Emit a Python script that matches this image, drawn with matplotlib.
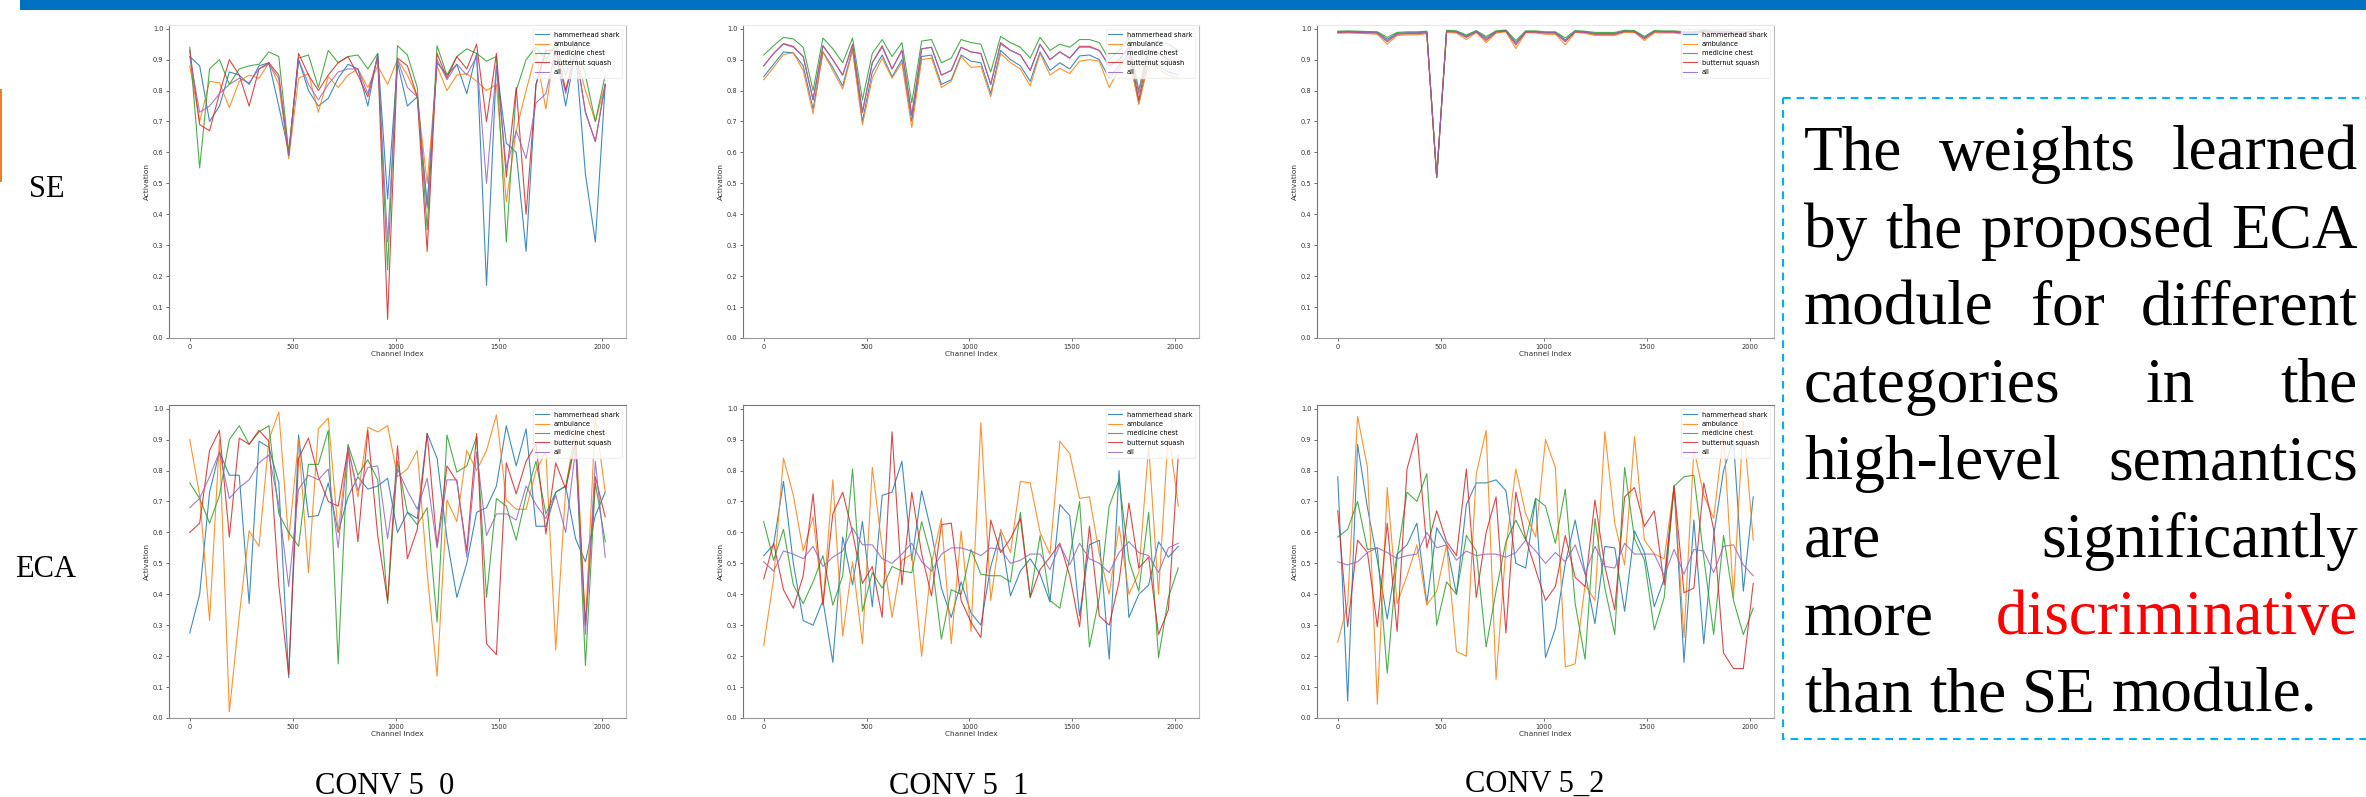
import matplotlib
matplotlib.use("Agg")
import matplotlib.pyplot as plt
from matplotlib.patches import Rectangle
from matplotlib.transforms import Affine2D

W, H = 2366, 797

channel_index = [0, 48, 96, 144, 192, 240, 288, 336, 384, 432, 480, 528, 576, 624, 672, 720, 768, 816, 864, 912, 960,
                 1008, 1056, 1104, 1152, 1200, 1248, 1296, 1344, 1392, 1440, 1488, 1536, 1584, 1632, 1680, 1728, 1776,
                 1824, 1872, 1920, 1968, 2016]
class_names = ["hammerhead shark", "ambulance", "medicine chest", "butternut squash", "all"]
y_ticks = [0.0, 0.1, 0.2, 0.3, 0.4, 0.5, 0.6, 0.7, 0.8, 0.9, 1.0]
x_ticks = [0, 500, 1000, 1500, 2000]

# SE, CONV 5_0
se0_shark = [.91, .88, .70, .75, .86, .85, .82, .88, .89, .75, .60, .90, .80, .75, .775, .84, .885, .87, .75, .92, .45, .89, .75, .78, .43, .89, .85, .885, .79, .92, .17, .88, .63, .60, .28, .82, .93, .93, .75, .93, .53, .31, .82]
se0_ambulance = [.88, .70, .83, .825, .745, .83, .85, .84, .89, .82, .58, .84, .855, .73, .845, .81, .85, .87, .81, .88, .82, .90, .85, .78, .50, .88, .80, .85, .855, .83, .80, .82, .44, .67, .80, .92, .74, .96, .80, .92, .80, .70, .82]
se0_chest = [.94, .55, .87, .90, .82, .87, .88, .885, .925, .91, .60, .905, .915, .81, .93, .89, .91, .915, .87, .92, .22, .945, .915, .81, .35, .945, .85, .91, .935, .92, .895, .91, .31, .80, .90, .94, .90, .95, .85, .96, .85, .70, .85]
se0_squash = [.93, .69, .67, .79, .90, .85, .75, .87, .89, .85, .59, .92, .85, .80, .85, .89, .91, .85, .78, .91, .06, .905, .88, .78, .28, .92, .84, .91, .87, .95, .70, .92, .52, .81, .40, .82, .93, .93, .80, .93, .73, .635, .82]
se0_all = [.91, .73, .75, .79, .82, .84, .825, .87, .885, .84, .59, .90, .82, .77, .82, .86, .87, .87, .79, .91, .31, .90, .81, .78, .42, .90, .835, .885, .85, .91, .50, .88, .55, .67, .58, .76, .79, .93, .79, .93, .73, .635, .82]

# SE, CONV 5_1
se1_shark = [.845, .885, .925, .922, .88, .74, .925, .875, .815, .935, .70, .86, .915, .845, .90, .70, .91, .915, .82, .835, .915, .895, .89, .79, .93, .90, .88, .83, .925, .865, .89, .87, .912, .915, .90, .84, .88, .92, .76, .90, .88, .86, .85]
se1_ambulance = [.835, .875, .917, .922, .865, .725, .925, .865, .805, .93, .69, .84, .905, .84, .89, .68, .90, .905, .81, .83, .91, .875, .878, .78, .92, .89, .87, .815, .92, .85, .872, .855, .895, .90, .895, .81, .87, .91, .755, .89, .87, .85, .84]
se1_chest = [.915, .945, .972, .967, .94, .80, .97, .935, .89, .97, .77, .92, .965, .91, .955, .76, .96, .965, .89, .905, .965, .955, .95, .86, .975, .955, .94, .905, .972, .93, .95, .94, .965, .965, .955, .90, .93, .97, .80, .95, .96, .95, .93]
se1_squash = [.88, .92, .952, .943, .91, .77, .945, .90, .85, .95, .73, .89, .945, .87, .93, .72, .935, .94, .85, .865, .94, .925, .92, .82, .955, .93, .915, .865, .95, .90, .925, .905, .943, .943, .93, .88, .90, .94, .77, .93, .92, .90, .89]
se1_all = [.88, .92, .95, .94, .91, .77, .945, .90, .85, .945, .73, .89, .94, .87, .93, .72, .935, .94, .85, .865, .94, .925, .92, .82, .95, .93, .915, .865, .95, .90, .925, .905, .94, .94, .93, .88, .90, .94, .79, .93, .92, .90, .89]

# SE, CONV 5_2
se2_shark = [.990, .991, .990, .989, .988, .966, .985, .987, .987, .990, .52, .993, .991, .976, .992, .970, .991, .994, .955, .991, .991, .988, .988, .964, .992, .990, .985, .985, .985, .993, .992, .971, .992, .991, .991, .988, .988, .993, .990, .990, .988, .988, .990]
se2_ambulance = [.985, .986, .985, .984, .982, .950, .978, .980, .980, .984, .52, .988, .986, .965, .988, .955, .986, .990, .936, .987, .986, .982, .982, .948, .988, .985, .978, .978, .978, .988, .988, .962, .987, .986, .986, .982, .982, .988, .985, .985, .982, .982, .985]
se2_chest = [.992, .993, .992, .991, .990, .972, .988, .990, .990, .992, .52, .995, .993, .980, .994, .975, .993, .996, .962, .993, .993, .990, .990, .970, .994, .992, .988, .988, .988, .995, .994, .975, .994, .993, .993, .990, .990, .995, .992, .992, .990, .990, .992]
se2_squash = [.988, .989, .988, .987, .986, .958, .982, .984, .984, .987, .52, .991, .989, .972, .990, .962, .989, .992, .948, .989, .989, .986, .986, .958, .990, .988, .982, .982, .982, .991, .990, .968, .990, .989, .989, .986, .986, .991, .988, .988, .986, .986, .988]
se2_all = [.989, .990, .989, .988, .987, .962, .984, .986, .986, .989, .52, .992, .990, .974, .991, .966, .990, .993, .952, .990, .990, .987, .987, .961, .991, .989, .984, .984, .984, .992, .991, .970, .991, .990, .990, .987, .987, .992, .989, .989, .987, .987, .989]

# ECA, CONV 5_0
eca0_shark = [.275, .40, .73, .86, .785, .785, .37, .895, .875, .76, .13, .915, .65, .655, .76, .60, .715, .78, .74, .75, .775, .60, .665, .645, .92, .84, .58, .39, .50, .665, .68, .75, .945, .815, .935, .62, .62, .73, .75, .58, .505, .655, .73]
eca0_ambulance = [.90, .72, .315, .90, .02, .33, .605, .555, .90, .99, .575, .90, .47, .935, .97, .60, .88, .715, .94, .925, .945, .78, .805, .865, .47, .135, .705, .635, .865, .80, .865, .98, .705, .675, .675, .80, .86, .22, .74, .94, .30, .97, .73]
eca0_chest = [.76, .71, .63, .72, .90, .945, .885, .925, .945, .66, .60, .555, .82, .82, .93, .175, .885, .785, .835, .77, .37, .83, .665, .625, .68, .31, .915, .795, .815, .91, .39, .71, .685, .575, .72, .83, .66, .73, .75, .90, .17, .76, .57]
eca0_squash = [.60, .63, .865, .93, .585, .905, .885, .93, .895, .43, .14, .84, .905, .78, .70, .685, .87, .57, .93, .59, .38, .88, .515, .61, .92, .555, .815, .765, .54, .92, .24, .205, .825, .725, .83, .885, .595, .825, .74, .89, .30, .78, .65]
eca0_all = [.68, .71, .78, .86, .71, .745, .77, .825, .85, .69, .425, .74, .785, .77, .805, .55, .87, .735, .81, .815, .58, .805, .735, .675, .775, .55, .77, .77, .52, .86, .59, .66, .66, .64, .75, .69, .645, .72, .60, .87, .27, .83, .52]

# ECA, CONV 5_1
eca1_shark = [.525, .56, .765, .50, .315, .30, .38, .18, .585, .43, .635, .36, .72, .73, .83, .51, .735, .60, .42, .325, .44, .34, .30, .49, .60, .395, .475, .515, .465, .375, .69, .655, .33, .56, .575, .19, .80, .325, .40, .43, .57, .52, .555]
eca1_ambulance = [.235, .45, .84, .72, .54, .65, .37, .77, .265, .505, .24, .81, .55, .325, .51, .53, .20, .50, .645, .24, .605, .28, .955, .38, .61, .535, .765, .76, .60, .53, .895, .855, .71, .715, .53, .40, .62, .40, .47, .88, .40, .93, .685]
eca1_chest = [.635, .51, .61, .43, .37, .44, .525, .365, .46, .805, .345, .47, .42, .49, .475, .47, .635, .515, .255, .415, .40, .545, .465, .46, .46, .44, .665, .39, .59, .38, .355, .52, .70, .23, .39, .685, .77, .51, .41, .665, .195, .39, .485]
eca1_squash = [.45, .565, .415, .355, .46, .725, .365, .66, .73, .60, .435, .49, .325, .925, .43, .73, .53, .395, .625, .63, .38, .31, .26, .64, .535, .58, .645, .39, .48, .52, .565, .46, .295, .62, .33, .30, .44, .695, .485, .52, .27, .35, .85]
eca1_all = [.505, .475, .54, .53, .515, .555, .49, .52, .54, .615, .56, .56, .515, .50, .53, .565, .505, .475, .53, .55, .55, .54, .525, .55, .545, .50, .51, .53, .53, .48, .56, .495, .565, .515, .50, .47, .535, .57, .535, .525, .47, .55, .565]

# ECA, CONV 5_2
eca2_shark = [.78, .055, .885, .68, .51, .32, .53, .56, .63, .37, .615, .56, .40, .69, .76, .76, .77, .735, .50, .485, .71, .195, .29, .50, .64, .47, .305, .555, .55, .345, .605, .535, .36, .45, .75, .18, .64, .24, .59, .80, .90, .41, .715]
eca2_ambulance = [.245, .37, .975, .81, .045, .745, .37, .46, .56, .365, .41, .56, .215, .20, .79, .93, .125, .55, .805, .66, .585, .90, .81, .165, .175, .43, .38, .925, .63, .495, .91, .575, .53, .515, .75, .26, .87, .72, .645, .92, .39, .96, .575]
eca2_chest = [.585, .61, .70, .545, .55, .145, .52, .73, .70, .79, .30, .44, .40, .59, .54, .23, .41, .57, .64, .575, .71, .685, .565, .74, .37, .19, .645, .42, .27, .81, .58, .51, .285, .39, .75, .78, .785, .52, .27, .59, .38, .27, .355]
eca2_squash = [.67, .295, .575, .535, .295, .63, .28, .805, .92, .55, .67, .57, .525, .805, .39, .60, .715, .275, .73, .58, .48, .38, .425, .59, .455, .425, .705, .49, .35, .715, .745, .62, .67, .43, .75, .405, .42, .76, .61, .21, .16, .16, .435]
eca2_all = [.505, .495, .505, .535, .55, .535, .515, .525, .53, .60, .55, .56, .51, .54, .525, .53, .53, .52, .535, .575, .54, .50, .535, .505, .56, .465, .555, .49, .485, .565, .53, .53, .53, .46, .545, .465, .545, .54, .47, .555, .56, .495, .46]

paragraph = [
    ["The", "weights", "learned"],
    ["by", "the", "proposed", "ECA"],
    ["module", "for", "different"],
    ["categories", "in", "the"],
    ["high-level", "semantics"],
    ["are", "significantly"],
    ["more", "discriminative"],
    ["than", "the", "SE", "module."],
]

# Left, right, top, bottom of each panel in image pixels
panels = [
    (169, 626, 25, 338, [se0_shark, se0_ambulance, se0_chest, se0_squash, se0_all]),
    (743, 1199, 25, 338, [se1_shark, se1_ambulance, se1_chest, se1_squash, se1_all]),
    (1317, 1774, 25, 338, [se2_shark, se2_ambulance, se2_chest, se2_squash, se2_all]),
    (169, 626, 405, 718, [eca0_shark, eca0_ambulance, eca0_chest, eca0_squash, eca0_all]),
    (743, 1199, 405, 718, [eca1_shark, eca1_ambulance, eca1_chest, eca1_squash, eca1_all]),
    (1317, 1774, 405, 718, [eca2_shark, eca2_ambulance, eca2_chest, eca2_squash, eca2_all]),
]

fig = plt.figure(figsize=(W / 100, H / 100), dpi=100, facecolor="white")
px = Affine2D().scale(1 / W, -1 / H).translate(0, 1) + fig.transFigure
serif = "Liberation Serif"

for n, (left, right, top, bottom, series) in enumerate(panels):
    ax = fig.add_axes([left / W, 1 - bottom / H, (right - left) / W, (bottom - top) / H])
    for name, values in zip(class_names, series):
        ax.plot(channel_index, values, lw=0.8, alpha=0.85, label=name)
    ax.set_xlim(-100.8, 2116.8)
    ax.set_ylim(0, 1.012)
    ax.set_xticks(x_ticks)
    ax.set_yticks(y_ticks)
    ax.tick_params(labelsize=4.8, length=2, width=0.5, pad=2, colors="#333333")
    ax.set_xlabel("Channel Index", fontsize=5.3, labelpad=1, color="#333333")
    ax.set_ylabel("Activation", fontsize=5.3, labelpad=2, color="#333333")
    top_colour = "#e8e8e8" if n < 3 else "#777777"
    for side, colour in [("left", "#777777"), ("bottom", "#999999"), ("top", top_colour), ("right", "#bbbbbb")]:
        ax.spines[side].set_color(colour)
        ax.spines[side].set_linewidth(0.8)
    ax.legend(loc="upper right", bbox_to_anchor=(1 - 4 / (right - left), 1 - 4 / (bottom - top)),
              borderaxespad=0, fontsize=4.8, labelspacing=0.5, edgecolor="#eeeeee")

# Header bar, orange tab and dashed text box (its right side runs off the image)
fig.add_artist(Rectangle((20, 0), W - 20, 10, transform=px, facecolor="#0070c0", edgecolor="none"))
fig.add_artist(Rectangle((0, 89), 2, 93, transform=px, facecolor="#ed7d31", edgecolor="none"))
fig.add_artist(Rectangle((1783, 98), 700, 641, transform=px, facecolor="none", edgecolor="#00b0f0",
                         lw=1.5, linestyle=(0, (3.7, 2.8))))

fig.text(47, 197, "SE", transform=px, family=serif, fontsize=22, ha="center", va="baseline")
fig.text(46, 577, "ECA", transform=px, family=serif, fontsize=22, ha="center", va="baseline")
fig.text(385, 794, "CONV 5  0", transform=px, family=serif, fontsize=22, ha="center", va="baseline")
fig.text(959, 794, "CONV 5  1", transform=px, family=serif, fontsize=22, ha="center", va="baseline")
fig.text(1535, 792, "CONV 5_2", transform=px, family=serif, fontsize=22, ha="center", va="baseline")

# Justified paragraph, word by word
renderer = fig.canvas.get_renderer()
text_left, text_right = 1804, 2358
for i, words in enumerate(paragraph):
    baseline = 169.5 + i * 77.5
    items = []
    for word in words:
        colour = "#ff0000" if word == "discriminative" else "black"
        items.append(fig.text(0, baseline, word, transform=px, family=serif, fontsize=45.5, color=colour,
                              ha="left", va="baseline"))
    widths = [t.get_window_extent(renderer).width for t in items]
    if i == len(paragraph) - 1:
        gap = 16
    else:
        gap = (text_right - text_left - sum(widths)) / (len(words) - 1)
    x = text_left
    for t, width in zip(items, widths):
        t.set_x(x)
        x += width + gap

fig.savefig("out.png", dpi=100)
